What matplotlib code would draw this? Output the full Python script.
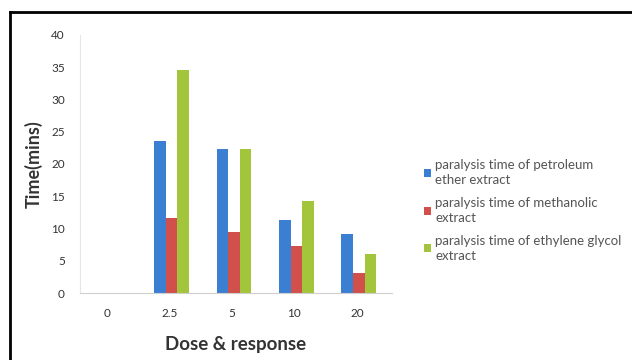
import matplotlib
matplotlib.use("Agg")
import matplotlib.pyplot as plt
import numpy as np
from matplotlib.lines import Line2D

plt.rcParams['font.family'] = ['Lato', 'DejaVu Sans']

# Dose groups and paralysis times (mins)
doses = ['0', '2.5', '5', '10', '20']
petroleum_ether = [0, 23.6, 22.3, 11.3, 9.1]
methanolic = [0, 11.6, 9.5, 7.3, 3.1]
ethylene_glycol = [0, 34.6, 22.3, 14.3, 6.0]

series_labels = [
    'paralysis time of petroleum\nether extract',
    'paralysis time of methanolic\nextract',
    'paralysis time of ethylene glycol\nextract',
]
colors = ['#3b7fd2', '#d2504b', '#a3c53b']

fig = plt.figure(figsize=(6.32, 3.6), dpi=100)
ax = fig.add_axes([0.127, 0.186, 0.493, 0.717])

x = np.arange(len(doses))
w = 0.185
bars = []
for i, (vals, col, lab) in enumerate(zip([petroleum_ether, methanolic, ethylene_glycol],
                                         colors, series_labels)):
    b = ax.bar(x + (i - 1) * w + 0.03, vals, width=w, color=col, label=lab)
    bars.append(b)

ax.set_xlim(-0.43, 4.56)
ax.set_ylim(0, 40)
ax.set_yticks(range(0, 41, 5))
ax.set_xticks(x)
ax.set_xticklabels(doses)
ax.tick_params(axis='both', length=0, labelsize=8.5, colors='#333333')
ax.tick_params(axis='x', pad=11)
ax.tick_params(axis='y', pad=11)

for s in ['top', 'right']:
    ax.spines[s].set_visible(False)
ax.spines['left'].set_color('#e6e6e6')
ax.spines['bottom'].set_color('#cfcfcf')

ax.set_ylabel('Time(mins)', fontsize=13, fontweight='bold', color='#333333', labelpad=6)
ax.set_xlabel('Dose & response', fontsize=13.5, fontweight='bold', color='#333333', labelpad=12)

leg = fig.legend(handles=[b for b in bars], labels=series_labels,
                 loc='upper left', bbox_to_anchor=(0.652, 0.59),
                 frameon=False, fontsize=9.5, handlelength=0.55, handleheight=0.55,
                 handletextpad=0.3, labelspacing=0.8, labelcolor='#555555')
for t in leg.get_texts():
    t.set_linespacing(1.3)

# frame around the picture (left and top edges)
fig.add_artist(Line2D([10 / 632, 10 / 632], [0, 1 - 12 / 360], color='black', lw=2,
                      transform=fig.transFigure))
fig.add_artist(Line2D([10 / 632, 1], [1 - 12 / 360, 1 - 12 / 360], color='black', lw=2,
                      transform=fig.transFigure))

fig.savefig('out.png', dpi=100)
